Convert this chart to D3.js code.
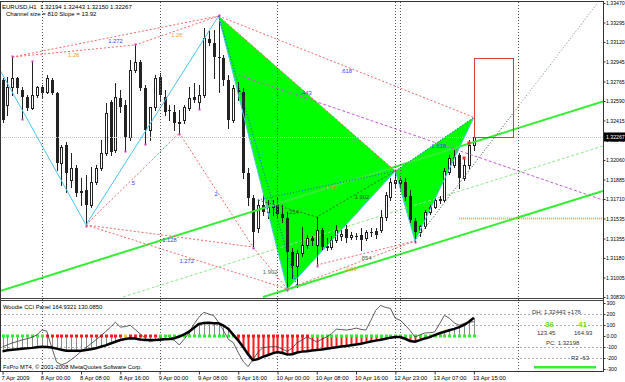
<!DOCTYPE html>
<html>
<head>
<meta charset="utf-8">
<script src="https://cdnjs.cloudflare.com/ajax/libs/d3/7.8.5/d3.min.js"></script>
<style>
body { margin: 0; background: #fff; }
svg { display: block; font-family: "Liberation Sans", Arial, sans-serif; }
text { white-space: pre; }
</style>
</head>
<body>
<svg id="chart" width="625" height="382"></svg>
<script>
// EURUSD H1 candles, bar 0 = 7 Apr 16:00, bar 96 = 13 Apr 15:00
const opens = [1.32779,1.32554,1.32716,1.32797,1.32689,1.32626,1.32527,1.32644,1.32716,1.32671,
1.32779,1.32662,1.32033,1.32195,1.31881,1.31988,1.31782,1.31791,1.31656,1.31863,
1.31988,1.32123,1.32581,1.32150,1.32617,1.32554,1.32267,1.32868,1.32940,1.32707,
1.32330,1.32536,1.32806,1.32626,1.32509,1.32491,1.32393,1.32419,1.32527,1.32626,
1.32581,1.32644,1.33147,1.33111,1.32985,1.32976,1.32779,1.32419,1.32689,1.32671,
1.31943,1.31719,1.31450,1.31656,1.31593,1.31638,1.31665,1.31575,1.31539,1.31234,
1.31108,1.31225,1.31297,1.31360,1.31297,1.31432,1.31288,1.31279,1.31342,1.31378,
1.31441,1.31369,1.31378,1.31387,1.31360,1.31414,1.31423,1.31432,1.31548,1.31728,
1.31854,1.31854,1.31863,1.31737,1.31512,1.31414,1.31468,1.31593,1.31638,1.31701,
1.31701,1.31952,1.32015,1.32105,1.31899,1.32015,1.32194];
const highs = [1.32797,1.32806,1.32985,1.32806,1.32716,1.32644,1.32940,1.32725,1.32734,1.32824,
1.32797,1.32671,1.32195,1.32222,1.32123,1.32015,1.31899,1.31926,1.31997,1.32015,
1.32240,1.32572,1.32599,1.32752,1.32689,1.32599,1.32958,1.33093,1.32958,1.32734,
1.32536,1.32824,1.32842,1.32689,1.32554,1.32554,1.32509,1.32554,1.32716,1.32752,
1.32734,1.33246,1.33228,1.33228,1.33353,1.33003,1.32824,1.32734,1.32761,1.32707,
1.31988,1.31746,1.31701,1.31746,1.31701,1.31701,1.31719,1.31656,1.31593,1.31270,
1.31252,1.31459,1.31387,1.31378,1.31548,1.31450,1.31360,1.31378,1.31477,1.31432,
1.31477,1.31414,1.31405,1.31450,1.31432,1.31450,1.31450,1.31611,1.31773,1.31899,
1.31961,1.31899,1.31899,1.31791,1.31539,1.31477,1.31611,1.31656,1.31719,1.31737,
1.31988,1.32105,1.32150,1.32123,1.32078,1.32240,1.32443];
const lows = [1.32401,1.32464,1.32644,1.32662,1.32437,1.32509,1.32518,1.32626,1.32617,1.32662,
1.32653,1.31970,1.31836,1.31773,1.31818,1.31737,1.31656,1.31477,1.31638,1.31845,
1.31970,1.32105,1.32105,1.32132,1.32491,1.32150,1.32240,1.32850,1.32689,1.32213,
1.32240,1.32509,1.32599,1.32464,1.32419,1.32330,1.32303,1.32393,1.32509,1.32581,
1.32527,1.32626,1.33093,1.32797,1.32671,1.32734,1.32348,1.32401,1.32599,1.31899,
1.31656,1.31279,1.31414,1.31566,1.31539,1.31566,1.31539,1.31503,1.30902,1.31001,
1.30920,1.31198,1.31270,1.31297,1.31117,1.31252,1.31252,1.31261,1.31324,1.31342,
1.31324,1.31351,1.31351,1.31252,1.31342,1.31378,1.31360,1.31414,1.31521,1.31701,
1.31809,1.31791,1.31701,1.31503,1.31333,1.31378,1.31450,1.31575,1.31629,1.31674,
1.31683,1.31934,1.31997,1.31809,1.31881,1.31988,1.32150];
const closes = [1.32419,1.32716,1.32797,1.32707,1.32626,1.32527,1.32644,1.32716,1.32662,1.32797,
1.32662,1.32033,1.32177,1.31943,1.31988,1.31764,1.31764,1.31656,1.31863,1.31988,
1.32123,1.32482,1.32132,1.32626,1.32536,1.32267,1.32868,1.32940,1.32707,1.32330,
1.32536,1.32797,1.32644,1.32491,1.32500,1.32393,1.32401,1.32536,1.32617,1.32599,
1.32644,1.33156,1.33111,1.32985,1.32976,1.32779,1.32419,1.32707,1.32671,1.31943,
1.31719,1.31414,1.31656,1.31593,1.31638,1.31665,1.31575,1.31539,1.31234,1.31108,
1.31225,1.31297,1.31360,1.31333,1.31432,1.31279,1.31270,1.31342,1.31432,1.31396,
1.31360,1.31387,1.31375,1.31342,1.31414,1.31411,1.31387,1.31548,1.31746,1.31863,
1.31881,1.31881,1.31728,1.31521,1.31414,1.31468,1.31593,1.31638,1.31701,1.31710,
1.31961,1.32078,1.32087,1.31899,1.32015,1.32195,1.32267];

// Woodie CCI panel
const cciSlow = [-140,-130,-124,-120,-115,-112,-108,-102,-98,-100,
-105,-115,-125,-133,-135,-134,-134,-128,-120,-112,
-98,-85,-68,-52,-36,-28,-20,-22,-32,-36,
-36,-36,-34,-30,-28,-20,-5,15,40,75,
110,118,120,117,115,95,65,10,-40,-100,
-165,-220,-210,-190,-175,-158,-145,-155,-168,-165,
-150,-142,-138,-132,-127,-123,-115,-110,-102,-96,
-90,-84,-77,-70,-60,-50,-42,-35,-25,-15,
-9,-9,-25,-45,-52,-38,-22,-10,8,25,
38,52,65,80,100,130,165];
const cciFast = [-98,-80,-63,-50,-36,-25,-12,10,54,45,
-100,-235,-262,-245,-215,-180,-140,-107,-70,-36,
0,40,81,125,81,85,98,60,20,-18,
-54,-40,-18,-25,-30,-40,-81,-30,30,110,
170,215,200,185,125,50,-30,-60,-150,-230,
-278,-215,-150,-107,-100,-98,-98,-120,-140,-110,
-60,-36,-9,-30,-54,-30,-9,20,63,58,
54,60,72,60,54,140,233,278,260,251,
161,143,100,50,-9,10,27,30,36,110,
188,161,120,98,115,125,130];
const zeroDots = ("ggggggggg" + "rrrrrrrrrrrrrrrr" + "y" + "rrrrrr" + "gggggggggggggggg" +
  "rrrrrrrrrrrrrrr" + "gggggggggggggggggggggggggggggggggg").split("");
const redHist = [48, 85];
const panelValues = ["164.9321", "130.0850"];

// axes
const priceTicks = [1.33470,1.33295,1.33120,1.32945,1.32765,1.32590,1.32415,1.32240,1.32060,
  1.31885,1.31710,1.31535,1.31355,1.31180,1.31005,1.30830];
const cciTicks = [300,200,100,0,-100,-200,-300];
const timeTicks = [0,8,16,24,32,40,48,56,64,72,80,88,96];
const timeLabels = ["7 Apr 2009","8 Apr 00:00","8 Apr 08:00","8 Apr 16:00","9 Apr 00:00","9 Apr 08:00",
  "9 Apr 16:00","10 Apr 00:00","10 Apr 08:00","10 Apr 16:00","12 Apr 23:00","13 Apr 07:00","13 Apr 15:00"];
const separators = [8, 32, 56, 80, 81, 105];

// pattern points [bar, price]
const X = [44, 1.33353], A = [58, 1.30902], B = [80, 1.31961], C = [84, 1.31333], D = [96, 1.32443];
const zigzag = [[-0.51, 1.32868], [17, 1.31477], X, A, B, C, D];
const channelUp = [[-0.51, 1.30884], [122.3, 1.32586]];
const channelLow = [[53.05, 1.30830], [122.3, 1.31782]];
const channelMid = [[24.54, 1.30830], [122.3, 1.32186]];
const ratioLines = [
  { p: [[2, 1.32985], X], label: "1.272", color: "#3b3bff" },
  { p: [[2, 1.32985], [27, 1.33093]], label: "1.26", color: "#ff9a1a" },
  { p: [[27, 1.33093], X], label: "1.26", color: "#ff9a1a" },
  { p: [[17, 1.31477], [36, 1.32303]], label: ".5", color: "#3b3bff" },
  { p: [[36, 1.32303], [51, 1.31279]], label: "2", color: "#3b3bff" },
  { p: [[17, 1.31477], [51, 1.31279]], label: "1.128", color: "#3b3bff" },
  { p: [[17, 1.31477], A], label: "1.272", color: "#3b3bff" },
  { p: [[51, 1.31279], A], label: "1.902", color: "#4d6e4d" },
  { p: [X, D], label: ".618", color: "#3b3bff" },
  { p: [X, B], label: "", color: "#3b3bff" },
  { p: [[64, 1.31117], C], label: ".854", color: "#4d6e4d" },
  { p: [A, C], label: "0.66", color: "#ff9a1a" }
];
const blueDots = [
  { p: [X, [60, 1.30920]], label: "" },
  { p: [[52, 1.31701], B], label: "1.33", color: "#e08a00" },
  { p: [B, D], label: "1.618", color: "#3b3bff" }
];
const innerPath = [[52, 1.31701], [64, 1.31548], B];
const innerLabels = [".254", "1.902"];
const purpleLine = [[48, 1.32824], [122.3, 1.31701]];
const fanLines = [[C, [121.2, 1.33470]], [C, [104, 1.32482]]];
const orangeLevel = [[93, 1.31535], [122.3, 1.31535]];
const box = [[96, 1.32976], [104, 1.32267]];
const fractalHighs = [2, 6, 27, 44, 80];
const fractalLows = [4, 17, 25, 29, 36, 40, 51, 58, 64, 84];
const redMarks = [[94, 1.32078], [95, 1.32213]];

const svg = d3.select("#chart");
const right = 603;
const x = d3.scaleLinear().domain([0, 96]).range([2.5, 473.9]);
const y = d3.scaleLinear().domain([1.30830, 1.33470]).range([297, 3]);
const yc = d3.scaleLinear().domain([-300, 300]).range([369, 303]);
const line = d3.line().x(d => x(d[0])).y(d => y(d[1]));
const cciLine = d3.line().x((d, i) => x(i)).y(d => yc(d));
const last = opens.length - 1;

const defs = svg.append("defs");
defs.append("clipPath").attr("id", "cm").append("rect").attr("x", 0).attr("y", 2).attr("width", right).attr("height", 296);
defs.append("clipPath").attr("id", "cs").append("rect").attr("x", 0).attr("y", 301).attr("width", right).attr("height", 70);

const main = svg.append("g").attr("clip-path", "url(#cm)");

// harmonic pattern fill (background)
main.selectAll(".tri").data([[X, A, B], [B, C, D]]).enter()
  .append("path").attr("d", d => line(d) + "Z").attr("fill", "#00ff00").attr("stroke", "none");

// period separators across both panes
svg.append("g").selectAll("line").data(separators).enter().append("line")
  .attr("x1", d => Math.round(x(d)) + 0.5).attr("x2", d => Math.round(x(d)) + 0.5)
  .attr("y1", 2).attr("y2", 371)
  .attr("stroke", "#555").attr("stroke-dasharray", "1,2");

// channel
main.append("path").attr("d", line(channelMid)).attr("fill", "none").attr("stroke", "#8fe88f").attr("stroke-dasharray", "3,2");

// candles
const bars = main.selectAll(".bar").data(d3.range(opens.length)).enter().append("g");
bars.append("line")
  .attr("x1", i => Math.round(x(i)) + 0.5).attr("x2", i => Math.round(x(i)) + 0.5)
  .attr("y1", i => Math.round(y(highs[i]))).attr("y2", i => Math.round(y(lows[i])) + 1)
  .attr("stroke", "#222");
bars.append("rect")
  .attr("x", i => closes[i] >= opens[i] ? Math.round(x(i)) - 0.5 : Math.round(x(i)) - 1)
  .attr("y", i => Math.round(y(Math.max(opens[i], closes[i]))) + (closes[i] >= opens[i] ? 0.5 : 0))
  .attr("width", i => closes[i] >= opens[i] ? 2 : 3)
  .attr("height", i => Math.max(1, Math.round(y(Math.min(opens[i], closes[i]))) - Math.round(y(Math.max(opens[i], closes[i])))))
  .attr("fill", i => closes[i] >= opens[i] ? "#fff" : "#222")
  .attr("stroke", i => closes[i] >= opens[i] ? "#222" : "none");

// current price line
main.append("line").attr("x1", 0).attr("x2", right)
  .attr("y1", Math.round(y(closes[last])) + 0.5).attr("y2", Math.round(y(closes[last])) + 0.5)
  .attr("stroke", "#c4c4c4").attr("stroke-dasharray", "1,1");

main.append("path").attr("d", line(channelUp)).attr("fill", "none").attr("stroke", "#33ee33").attr("stroke-width", 2);
main.append("path").attr("d", line(channelLow)).attr("fill", "none").attr("stroke", "#33ee33").attr("stroke-width", 2);

// fan lines from C
main.selectAll(".fan").data(fanLines).enter().append("path")
  .attr("d", d => line(d)).attr("fill", "none").attr("stroke", "#6f8f6f").attr("stroke-dasharray", "1,2");

// purple line
main.append("path").attr("d", line(purpleLine)).attr("fill", "none").attr("stroke", "#c060d0").attr("stroke-dasharray", "3,2");
main.append("text").attr("x", 306).attr("y", y(1.32640)).attr("font-size", 5.8).attr("fill", "#3b3bff").attr("text-anchor", "middle").text(".443");

// ratio lines
main.selectAll(".ratio").data(ratioLines).enter().append("path")
  .attr("d", d => line(d.p)).attr("fill", "none").attr("stroke", "#f06a6a").attr("stroke-dasharray", "2,2");
main.selectAll(".rlab").data(ratioLines.filter(d => d.label)).enter().append("text")
  .attr("x", d => (x(d.p[0][0]) + x(d.p[1][0])) / 2)
  .attr("y", d => (y(d.p[0][1]) + y(d.p[1][1])) / 2 + 6.5)
  .attr("text-anchor", "middle").attr("font-size", 5.8).attr("fill", d => d.color).text(d => d.label);

// zigzag
main.append("path").attr("d", line(zigzag)).attr("fill", "none").attr("stroke", "#4cc4f0");

// pattern dotted lines
main.selectAll(".bd").data(blueDots).enter().append("path")
  .attr("d", d => line(d.p)).attr("fill", "none").attr("stroke", "#2250e0").attr("stroke-dasharray", "1,2");
main.selectAll(".bdl").data(blueDots.filter(d => d.label)).enter().append("text")
  .attr("x", d => (x(d.p[0][0]) + x(d.p[1][0])) / 2 + 4)
  .attr("y", d => (y(d.p[0][1]) + y(d.p[1][1])) / 2 + 4)
  .attr("text-anchor", "middle").attr("font-size", 5.8).attr("fill", d => d.color).text(d => d.label);
main.append("path").attr("d", line(innerPath)).attr("fill", "none").attr("stroke", "#2d7a2d").attr("stroke-dasharray", "2,2");
main.selectAll(".inl").data(innerLabels).enter().append("text")
  .attr("x", (d, i) => (x(innerPath[i][0]) + x(innerPath[i + 1][0])) / 2 + 6)
  .attr("y", (d, i) => (y(innerPath[i][1]) + y(innerPath[i + 1][1])) / 2 + 5)
  .attr("text-anchor", "middle").attr("font-size", 5.8).attr("fill", "#2d5a2d").text(d => d);

// level and box
main.append("path").attr("d", line(orangeLevel)).attr("stroke", "#ffa424").attr("stroke-width", 2).attr("stroke-dasharray", "1,1");
main.append("rect")
  .attr("x", Math.round(x(box[0][0])) + 0.5).attr("y", Math.round(y(box[0][1])) + 0.5)
  .attr("width", Math.round(x(box[1][0]) - x(box[0][0]))).attr("height", Math.round(y(box[1][1]) - y(box[0][1])))
  .attr("fill", "none").attr("stroke", "#e23838");

// fractal dots and markers
main.selectAll(".fh").data(fractalHighs).enter().append("rect")
  .attr("x", i => Math.round(x(i)) - 0.5).attr("y", i => Math.round(y(highs[i])) - 1.5)
  .attr("width", 2).attr("height", 2).attr("fill", "#c040c0");
main.selectAll(".fl").data(fractalLows).enter().append("rect")
  .attr("x", i => Math.round(x(i)) - 0.5).attr("y", i => Math.round(y(lows[i])) + 0.5)
  .attr("width", 2).attr("height", 2).attr("fill", "#c040c0");
main.selectAll(".rm").data(redMarks).enter().append("rect")
  .attr("x", d => x(d[0]) - 1.5).attr("y", d => y(d[1]) - 1.5)
  .attr("width", 3).attr("height", 3).attr("fill", "#ff2a2a");

// header text
svg.append("text").attr("x", 2).attr("y", 8.5).attr("font-size", 6).attr("fill", "#000")
  .text(`EURUSD,H1  ${opens[last].toFixed(5)} ${highs[last].toFixed(5)} ${lows[last].toFixed(5)} ${closes[last].toFixed(5)}`);
svg.append("text").attr("x", 6).attr("y", 15.5).attr("font-size", 6).attr("fill", "#000")
  .text("Channel size = 810 Slope = 13.92");

// CCI sub window
const sub = svg.append("g").attr("clip-path", "url(#cs)");
sub.selectAll(".grid").data([200, 100, -100, -200]).enter().append("line")
  .attr("x1", 0).attr("x2", right).attr("y1", d => Math.round(yc(d)) + 0.5).attr("y2", d => Math.round(yc(d)) + 0.5)
  .attr("stroke", "#aaa").attr("stroke-dasharray", "2,2");
sub.selectAll(".hist").data(cciSlow).enter().append("line")
  .attr("x1", (d, i) => Math.round(x(i)) + 0.5).attr("x2", (d, i) => Math.round(x(i)) + 0.5)
  .attr("y1", yc(0)).attr("y2", d => yc(d))
  .attr("stroke", (d, i) => i >= redHist[0] && i <= redHist[1] ? "#ff1a1a" : "#8a8a8a")
  .attr("stroke-width", (d, i) => i >= redHist[0] && i <= redHist[1] ? 2 : 1);
sub.selectAll(".dot").data(zeroDots).enter().append("rect")
  .attr("x", (d, i) => Math.round(x(i)) - 1).attr("y", Math.round(yc(0)) - 1.5)
  .attr("width", 3).attr("height", 3)
  .attr("fill", d => d === "g" ? "#2ef02e" : d === "r" ? "#ff1a1a" : "#f0d020");
sub.append("path").attr("d", cciLine(cciFast)).attr("fill", "none").attr("stroke", "#333").attr("stroke-width", 0.8);
sub.append("path").attr("d", cciLine(cciSlow)).attr("fill", "none").attr("stroke", "#000").attr("stroke-width", 2.5);
svg.append("text").attr("x", 3).attr("y", 308.5).attr("font-size", 5.8).attr("fill", "#000")
  .text(`Woodie CCI Panel ${panelValues[0]} ${panelValues[1]}`);
svg.append("text").attr("x", 3).attr("y", 368.5).attr("font-size", 5.8).attr("fill", "#000")
  .text("FxPro MT4, © 2001-2008 MetaQuotes Software Corp.");

// panel info
const info = svg.append("g").attr("font-size", 6).attr("fill", "#333");
info.append("text").attr("x", 532).attr("y", 313.5).text(`DH: ${highs[last].toFixed(5)} +176`);
info.append("text").attr("x", 545).attr("y", 326.5).attr("font-size", 8).attr("font-weight", "bold").attr("fill", "#6be01a").text("36");
info.append("text").attr("x", 578).attr("y", 326.5).attr("font-size", 8).attr("font-weight", "bold").attr("fill", "#6be01a").text("41");
info.append("text").attr("x", 537).attr("y", 334.5).text("123.45");
info.append("text").attr("x", 574).attr("y", 334.5).text((+panelValues[0]).toFixed(2));
info.append("text").attr("x", 546).attr("y", 344.5).text("PC: 1.32198");
info.append("text").attr("x", 571).attr("y", 360).text("R2 -63");
info.append("rect").attr("x", 534).attr("y", 366).attr("width", 62).attr("height", 2.5).attr("fill", "#33ee33");

// frame
svg.append("line").attr("x1", 0).attr("x2", right).attr("y1", 1.5).attr("y2", 1.5).attr("stroke", "#333");
svg.append("line").attr("x1", 0.5).attr("x2", 0.5).attr("y1", 1).attr("y2", 372).attr("stroke", "#333");
svg.append("line").attr("x1", 0).attr("x2", right).attr("y1", 298.5).attr("y2", 298.5).attr("stroke", "#444");
svg.append("line").attr("x1", 0).attr("x2", right).attr("y1", 300.5).attr("y2", 300.5).attr("stroke", "#444");
svg.append("line").attr("x1", right + 0.5).attr("x2", right + 0.5).attr("y1", 1).attr("y2", 372).attr("stroke", "#333");

// price axis
const pa = svg.append("g").attr("transform", `translate(${right + 0.5},0)`)
  .call(d3.axisRight(y).tickValues(priceTicks).tickFormat(d3.format(".5f")).tickSize(2).tickSizeOuter(0));
pa.select(".domain").remove();
pa.selectAll("text").attr("font-size", 5.2).attr("fill", "#000").attr("x", 2.5).attr("font-family", "Liberation Sans, Arial, sans-serif");
pa.selectAll("line").attr("stroke", "#333");
const cp = svg.append("g");
cp.append("rect").attr("x", right + 1).attr("y", y(closes[last]) - 4.5).attr("width", 22).attr("height", 9).attr("fill", "#000");
cp.append("text").attr("x", right + 3).attr("y", y(closes[last]) + 2).attr("font-size", 5.2).attr("fill", "#fff").text(closes[last].toFixed(5));

// CCI axis
const ca = svg.append("g").attr("transform", `translate(${right + 0.5},0)`)
  .call(d3.axisRight(yc).tickValues(cciTicks).tickFormat(d => d === 0 ? "0.00" : d).tickSize(2).tickSizeOuter(0));
ca.select(".domain").remove();
ca.selectAll("text").attr("font-size", 5.2).attr("fill", "#000").attr("x", 3).attr("font-family", "Liberation Sans, Arial, sans-serif");
ca.selectAll("line").attr("stroke", "#333");

// time axis
const ta = svg.append("g").attr("transform", "translate(0,371.5)")
  .call(d3.axisBottom(x).tickValues(timeTicks).tickFormat((d, i) => timeLabels[i]).tickSize(3).tickSizeOuter(0));
ta.select(".domain").attr("d", `M0,0H${right}`).attr("stroke", "#333");
ta.selectAll("line").attr("stroke", "#333");
ta.selectAll("text").attr("font-size", 5.8).attr("fill", "#000").attr("text-anchor", "start")
  .attr("dx", -1.5).attr("y", 4).attr("font-family", "Liberation Sans, Arial, sans-serif");
</script>
</body>
</html>
